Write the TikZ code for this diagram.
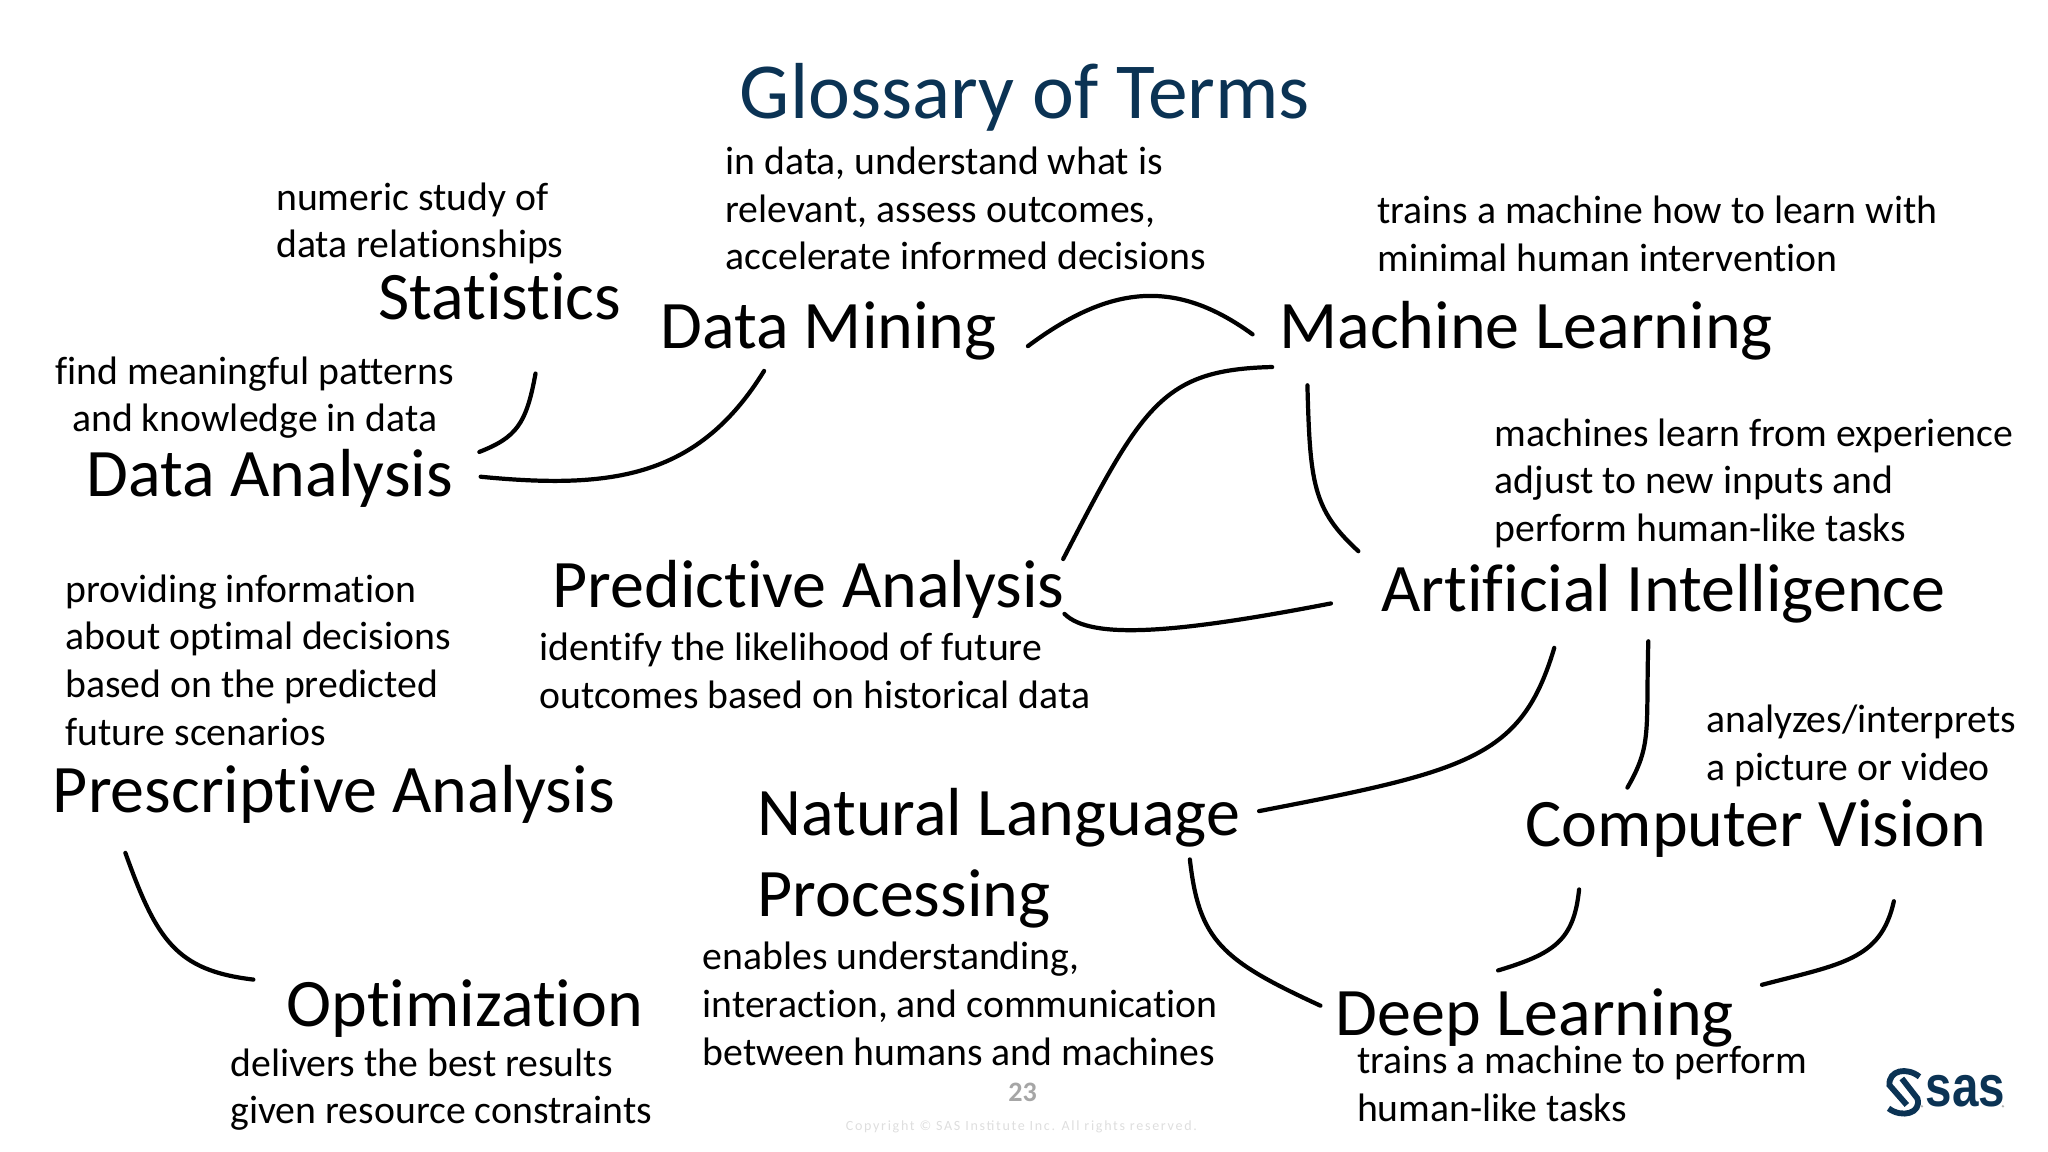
\documentclass[tikz,border=0pt]{standalone}
\usepackage{fontspec}
\setmainfont[Ligatures=NoCommon]{Carlito}
\newfontfamily\copyfont[LetterSpace=12]{Carlito}
\newfontfamily\logofont{Liberation Sans}
\usetikzlibrary{calc}
\definecolor{sasblue}{HTML}{0B3354}

\begin{document}
\begin{tikzpicture}[
  x=0.01306cm, y=-0.01306cm,
  % Define styles for different elements
  title/.style={inner sep=0, anchor=base west, text=sasblue, font=\fontsize{22.6}{27}\selectfont},
  term/.style={inner sep=0, anchor=base west, align=left, font=\fontsize{19.35}{23.3}\selectfont},
  defn/.style={inner sep=0, anchor=base west, align=left, font=\fontsize{11.3}{13.56}\selectfont},
  link/.style={line width=1.2pt, line cap=round},
  logo/.style={sasblue, line width=1.67pt}
]
\useasboundingbox (0,0) rectangle (1568,882);

\node[title] (title) at (566,91) {Glossary of Terms};

% Terms
\node[term] (statistics) at (289,245) {Statistics};
\node[term] (datamining) at (505,267) {Data Mining};
\node[term] (machinelearning) at (979,267) {Machine Learning};
\node[term] (dataanalysis) at (66,380) {Data Analysis};
\node[term] (predictive) at (422.5,465) {Predictive Analysis};
\node[term] (artificial) at (1057,468) {Artificial Intelligence};
\node[term] (prescriptive) at (40,622) {Prescriptive Analysis};
\node[term] (nlp) at (579.5,702) {Natural Language\\Processing};
\node[term] (vision) at (1167.5,648) {Computer Vision};
\node[term] (optimization) at (219,786) {Optimization};
\node[term] (deeplearning) at (1022,793) {Deep Learning};

% Definitions
\node[defn] (statistics_def) at (211,197.5) {numeric study of\\data relationships};
\node[defn] (datamining_def) at (555,206.5) {in data, understand what is\\relevant, assess outcomes,\\accelerate informed decisions};
\node[defn] (machinelearning_def) at (1054,207.5) {trains a machine how to learn with\\minimal human intervention};
\node[defn, align=center] (dataanalysis_def) at (42,330.5) {find meaningful patterns\\and knowledge in data};
\node[defn] (artificial_def) at (1144,414.5) {machines learn from experience\\adjust to new inputs and\\perform human-like tasks};
\node[defn] (predictive_def) at (412.5,542.5) {identify the likelihood of future\\outcomes based on historical data};
\node[defn] (prescriptive_def) at (49.5,570.5) {providing information\\about optimal decisions\\based on the predicted\\future scenarios};
\node[defn] (vision_def) at (1306,597.5) {analyzes/interprets\\a picture or video};
\node[defn] (optimization_def) at (176,860.5) {delivers the best results\\given resource constraints};
\node[defn] (nlp_def) at (537.5,815.5) {enables understanding,\\interaction, and communication\\between humans and machines};
\node[defn] (deeplearning_def) at (1038.5,858.5) {trains a machine to perform\\human-like tasks};

% Footer
\node[inner sep=0, text=gray!70, font=\fontsize{8}{10}\selectfont\bfseries] (pagenum) at (783,836) {23};
\node[inner sep=0, text=black!13, font=\fontsize{4}{5}\selectfont\copyfont] (copyright) at (782,863) {Copyright © SAS Institute Inc. All rights reserved.};

% Logo
\node[inner sep=0, anchor=base west, text=sasblue, font=\fontsize{16.5}{20}\selectfont\logofont\bfseries] (sas) at (1474,847.5) {\scalebox{0.82}[1]{sas}};
\draw[logo] (1469.6,824.4) .. controls (1459.9,816.7) and (1445.9,819.3) .. (1446.6,830.8) -- (1459.9,846);
\draw[logo] (1445.9,848.6) .. controls (1456.1,856.3) and (1471.4,852.4) .. (1468,841) -- (1456.1,825.7);
\fill[gray!60] (1471.5,847) circle (1);
\fill[gray!60] (1533.5,847) circle (1);

% Connections between terms
\draw[link] ($(statistics.base west)+(121,41)$) .. controls +(-7,39) and +(28,-11) .. ($(dataanalysis.base west)+(301,-34)$);
\draw[link] ($(dataanalysis.base west)+(302,-15)$) .. controls +(102,10) and +(-50,81) .. ($(datamining.base west)+(80,17)$);
\draw[link] ($(datamining.base west)+(282,-2)$) .. controls +(63,-47) and +(-59,-43) .. ($(machinelearning.base west)+(-20,-11)$);
\draw[link] ($(machinelearning.base west)+(-5,14)$) .. controls +(-84,2) and +(61,-118) .. ($(predictive.base west)+(391.5,-37)$);
\draw[link] ($(machinelearning.base west)+(22,28)$) .. controls +(2,75) and +(-35,-32) .. ($(artificial.base west)+(-17,-46)$);
\draw[link] ($(predictive.base west)+(392.5,5)$) .. controls +(20,20) and +(-119,23) .. ($(artificial.base west)+(-38,-6)$);
\draw[link] ($(artificial.base west)+(133,28)$) .. controls +(-25,84) and +(161,-31) .. ($(nlp.base west)+(384.5,-81)$);
\draw[link] ($(artificial.base west)+(205,23)$) .. controls +(-2,69) and +(19,-33) .. ($(vision.base west)+(78.5,-45)$);
\draw[link] ($(vision.base west)+(41.5,33)$) .. controls +(-4,39) and +(43,-13) .. ($(deeplearning.base west)+(125,-50)$);
\draw[link] ($(vision.base west)+(282.5,42)$) .. controls +(-10,45) and +(61,-16) .. ($(deeplearning.base west)+(327,-39)$);
\draw[link] ($(nlp.base west)+(331.5,-44)$) .. controls +(7,62) and +(-76,-35) .. ($(deeplearning.base west)+(-11,-23)$);
\draw[link] ($(prescriptive.base west)+(56,31)$) .. controls +(24,67) and +(-59,-7) .. ($(optimization.base west)+(-25,-36)$);

\end{tikzpicture}
\end{document}
